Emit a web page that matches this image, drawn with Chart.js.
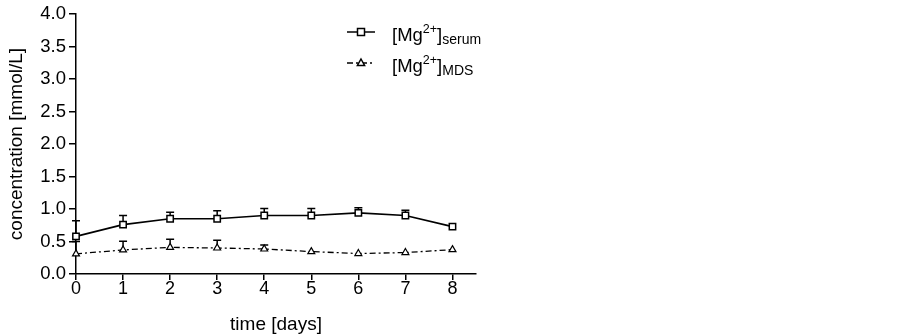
<!DOCTYPE html>
<html>
<head>
<meta charset="utf-8">
<script src="https://cdn.jsdelivr.net/npm/chart.js@4.4.1/dist/chart.umd.min.js"></script>
<style>
  html, body { margin: 0; padding: 0; background: #fff; }
  #wrap { width: 903px; height: 336px; position: relative; }
</style>
</head>
<body>
<div id="wrap"><canvas id="c" width="903" height="336"></canvas></div>
<script>
// ---- data ----
const days = [0, 1, 2, 3, 4, 5, 6, 7, 8];
const serumMean = [0.58, 0.76, 0.85, 0.85, 0.90, 0.90, 0.94, 0.90, 0.73];
const serumErr  = [0.24, 0.14, 0.10, 0.125, 0.11, 0.11, 0.08, 0.08, 0.0];
const mdsMean   = [0.31, 0.37, 0.41, 0.40, 0.385, 0.345, 0.315, 0.33, 0.375];
const mdsErr    = [0.19, 0.135, 0.125, 0.12, 0.06, 0.0, 0.0, 0.0, 0.0];
const yTicks    = [0, 0.5, 1.0, 1.5, 2.0, 2.5, 3.0, 3.5, 4.0];
const xTitle = 'time [days]';
const yTitle = 'concentration [mmol/L]';
const legendItems = [
  { main: '[Mg', sup: '2+', close: ']', sub: 'serum' },
  { main: '[Mg', sup: '2+', close: ']', sub: 'MDS' }
];

const FONT = '"Liberation Sans", Arial, sans-serif';
const MDS_DASH = [6, 3, 2, 3];

function toPts(xs, ys) { return xs.map((x, i) => ({ x: x, y: ys[i] })); }

const errorBars = {
  id: 'errorBars',
  beforeDatasetsDraw(chart) {
    const ctx = chart.ctx;
    const xs = chart.scales.x, ys = chart.scales.y;
    const sets = [[serumMean, serumErr], [mdsMean, mdsErr]];
    ctx.save();
    ctx.strokeStyle = '#000';
    ctx.lineWidth = 1.5;
    ctx.setLineDash([]);
    sets.forEach(([m, e]) => {
      days.forEach((d, i) => {
        if (!e[i]) return;
        const px = xs.getPixelForValue(d);
        const y0 = ys.getPixelForValue(m[i]);
        const y1 = ys.getPixelForValue(m[i] + e[i]);
        ctx.beginPath();
        ctx.moveTo(px, y0);
        ctx.lineTo(px, y1);
        ctx.moveTo(px - 4, y1);
        ctx.lineTo(px + 4, y1);
        ctx.stroke();
      });
    });
    ctx.restore();
  }
};

function drawSquare(ctx, x, y, s) {
  ctx.fillStyle = '#fff';
  ctx.fillRect(x - s / 2, y - s / 2, s, s);
  ctx.strokeRect(x - s / 2, y - s / 2, s, s);
}
function drawTri(ctx, x, y, r) {
  ctx.beginPath();
  ctx.moveTo(x, y - r);
  ctx.lineTo(x + r * 0.9, y + r * 0.6);
  ctx.lineTo(x - r * 0.9, y + r * 0.6);
  ctx.closePath();
  ctx.fillStyle = '#fff';
  ctx.fill();
  ctx.stroke();
}

const customLegend = {
  id: 'customLegend',
  afterDraw(chart) {
    const ctx = chart.ctx;
    ctx.save();
    ctx.strokeStyle = '#000';
    ctx.fillStyle = '#000';
    ctx.lineWidth = 1.5;
    const rows = [32, 63];
    legendItems.forEach((it, i) => {
      const y = rows[i];
      ctx.setLineDash(i === 0 ? [] : MDS_DASH);
      ctx.beginPath();
      ctx.moveTo(347, y);
      ctx.lineTo(375, y);
      ctx.stroke();
      ctx.setLineDash([]);
      if (i === 0) drawSquare(ctx, 361, y, 7); else drawTri(ctx, 361, y, 4);
      let x = 392;
      const base = y + 9;
      ctx.fillStyle = '#000';
      ctx.textBaseline = 'alphabetic';
      ctx.textAlign = 'left';
      ctx.font = '18.5px ' + FONT;
      ctx.fillText(it.main, x, base);
      x += ctx.measureText(it.main).width;
      ctx.font = '12.5px ' + FONT;
      ctx.fillText(it.sup, x, base - 8);
      x += ctx.measureText(it.sup).width;
      ctx.font = '18.5px ' + FONT;
      ctx.fillText(it.close, x, base);
      x += ctx.measureText(it.close).width;
      ctx.font = '14px ' + FONT;
      ctx.fillText(it.sub, x, base + 3);
    });
    ctx.restore();
  }
};

Chart.defaults.font.family = FONT;
Chart.defaults.color = '#000';

new Chart(document.getElementById('c'), {
  type: 'line',
  data: {
    datasets: [
      {
        label: 'serum',
        data: toPts(days, serumMean),
        borderColor: '#000',
        borderWidth: 1.7,
        pointStyle: 'rect',
        pointRadius: 4.5,
        pointBackgroundColor: '#fff',
        pointBorderColor: '#000',
        pointBorderWidth: 1.5,
        tension: 0,
        clip: false
      },
      {
        label: 'MDS',
        data: toPts(days, mdsMean),
        borderColor: '#000',
        borderWidth: 1.3,
        borderDash: MDS_DASH,
        pointStyle: 'triangle',
        pointRadius: 4,
        pointBackgroundColor: '#fff',
        pointBorderColor: '#000',
        pointBorderWidth: 1.2,
        tension: 0,
        clip: false
      }
    ]
  },
  options: {
    responsive: false,
    animation: false,
    events: [],
    layout: { padding: { top: 7, right: 427, left: 0, bottom: 0 } },
    plugins: { legend: { display: false }, tooltip: { enabled: false } },
    scales: {
      x: {
        type: 'linear',
        min: 0,
        max: 8.5,
        afterBuildTicks(scale) { scale.ticks = days.map(v => ({ value: v })); },
        afterFit(scale) { scale.height = 62; },
        border: { color: '#000', width: 1.5 },
        grid: { drawOnChartArea: false, drawTicks: true, tickLength: 6, color: '#000', lineWidth: 1.5 },
        ticks: { font: { size: 18 }, padding: -2, maxRotation: 0, callback: v => String(v) },
        title: { display: true, text: xTitle, font: { size: 19 }, padding: { top: -3, bottom: 0 } }
      },
      y: {
        type: 'linear',
        min: 0,
        max: 4,
        afterBuildTicks(scale) { scale.ticks = yTicks.map(v => ({ value: v })); },
        afterFit(scale) { scale.width = 76; },
        border: { color: '#000', width: 1.5 },
        grid: { drawOnChartArea: false, drawTicks: true, tickLength: 7, color: '#000', lineWidth: 1.5 },
        ticks: { font: { size: 18.5 }, padding: 3, callback: v => Number(v).toFixed(1) },
        title: { display: true, text: yTitle, font: { size: 19 }, padding: { top: 5, bottom: 0 } }
      }
    }
  },
  plugins: [errorBars, customLegend]
});
</script>
</body>
</html>
